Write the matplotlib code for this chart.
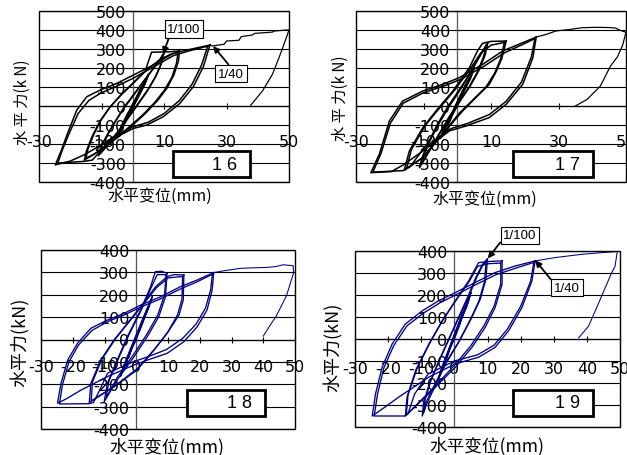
import matplotlib
matplotlib.use("Agg")
import matplotlib.pyplot as plt
from matplotlib.patches import Rectangle

plt.rcParams['font.family'] = ['DejaVu Sans']
plt.rcParams['axes.unicode_minus'] = False

W, H = 627, 456

# ---- 试验体16 (黑) : 每个回环 (x mm, y kN)
s16_loops = [
    [(2.5, 90), (1.5, 55), (0, 10), (-1.5, -45), (-2.5, -90), (-1.5, -55), (0, -10), (1.5, 45), (2.5, 90)],
    [(5, 165), (4, 120), (2, 55), (0, -5), (-2, -70), (-4, -135), (-5, -165), (-4, -120), (-2, -55), (0, 5), (2, 70), (4, 135), (5, 165)],
    [(4.8, 155), (3.8, 112), (1.8, 48), (-0.2, -12), (-2.2, -78), (-4, -130), (-4.8, -155), (-3.8, -110), (-1.8, -45), (0.2, 15), (2.2, 80), (4, 130), (4.8, 155)],
    [(10, 280), (9.2, 225), (7.5, 160), (5, 90), (2, 20), (-1, -50), (-4, -120), (-7, -185), (-9.5, -235), (-11, -262), (-10, -210), (-8, -150), (-5.5, -80), (-3, -15), (0, 50), (3, 120), (6, 185), (8.5, 240), (10, 280)],
    [(9.6, 268), (8.8, 210), (7, 145), (4.5, 75), (1.5, 5), (-1.5, -65), (-4.5, -130), (-7.5, -190), (-10, -240), (-10.6, -250), (-9.6, -195), (-7.6, -135), (-5, -65), (-2.5, 0), (0.5, 65), (3.5, 130), (6.5, 195), (8.5, 235), (9.6, 268)],
    [(15, 290), (14.6, 235), (13.2, 165), (11, 95), (8, 30), (4, -40), (0, -100), (-4, -155), (-8, -205), (-12, -250), (-15.5, -285), (-14.8, -235), (-13, -160), (-10.5, -80), (-7.5, -10), (-4, 55), (0, 120), (4, 185), (6, 283), (11.5, 285), (15, 290)],
    [(14.5, 282), (14, 225), (12.5, 150), (10, 80), (7, 18), (3, -50), (-1, -108), (-5, -165), (-9, -215), (-12.5, -255), (-15, -275), (-14.3, -225), (-12.5, -150), (-10, -70), (-7, 0), (-3.5, 62), (0.5, 125), (4.5, 190), (8.5, 242), (12, 272), (14.5, 282)],
    [(24.7, 321), (22.6, 207), (19.4, 102), (15.1, 14), (9.8, -56), (4.5, -100), (0.2, -118), (-7.2, -179), (-15.7, -258), (-20, -290), (-24.8, -310), (-23, -240), (-21, -150), (-17.9, -21), (-14.7, 49), (-10.4, 84), (-5.1, 119), (0.2, 163), (5.5, 207), (13, 277), (17.2, 294), (24.7, 321)],
    [(24, 315), (22, 215), (19, 115), (15, 30), (10, -40), (5, -85), (0, -110), (-7, -170), (-11, -250), (-13, -285), (-16, -292), (-24, -300), (-22.5, -230), (-20.5, -150), (-17.5, -40), (-14, 30), (-10, 70), (-5, 105), (0, 145), (6, 200), (13, 265), (18, 290), (24, 315)],
]
s16_final = [(24.7, 321), (25.5, 316), (29.2, 325), (30, 342), (34, 346), (34.7, 365), (38.3, 374), (39, 382), (44.7, 389), (45.4, 395), (49.5, 400), (50, 400),
             (48.4, 325), (46.8, 254), (44.7, 167), (41.5, 79), (37.7, 3)]

# ---- 试验体17 (黑)
s17_loops = [
    [(2.5, 110), (1.5, 70), (0, 20), (-1.5, -40), (-2.5, -90), (-1.5, -50), (0, 0), (1.5, 60), (2.5, 110)],
    [(5, 200), (4, 150), (2, 80), (0, 10), (-2, -60), (-4, -135), (-5, -170), (-4, -125), (-2, -55), (0, 20), (2, 95), (4, 160), (5, 200)],
    [(4.8, 190), (3.8, 140), (1.8, 72), (-0.2, 2), (-2.2, -68), (-4, -130), (-4.8, -160), (-3.8, -118), (-1.8, -48), (0.2, 28), (2.2, 100), (4, 158), (4.8, 190)],
    [(9, 330), (8.3, 270), (6.5, 190), (4, 110), (1, 30), (-2, -50), (-5, -140), (-8, -230), (-10, -290), (-11.2, -325), (-10.4, -270), (-8.5, -190), (-6, -100), (-3, -10), (0, 70), (3, 150), (5.5, 230), (7.5, 290), (9, 330)],
    [(8.6, 320), (7.8, 260), (6, 180), (3.5, 100), (0.5, 20), (-2.5, -60), (-5.5, -150), (-8.5, -240), (-10.6, -305), (-10, -260), (-8, -180), (-5.5, -95), (-2.5, -5), (0.5, 75), (3.5, 160), (6, 240), (7.8, 295), (8.6, 320)],
    [(14.5, 342), (13.2, 250), (11.5, 180), (9.5, 114), (5.5, 44), (1.6, -26), (-4.3, -149), (-10.2, -272), (-15.7, -338), (-14.2, -237), (-10.2, -114), (-6.3, -26), (-1.3, 79), (3.6, 202), (6, 290), (7.5, 330), (10, 340), (14.5, 342)],
    [(14, 335), (12.8, 245), (11, 170), (8.5, 100), (4.5, 30), (0.5, -40), (-5, -160), (-10.5, -275), (-15, -328), (-13.6, -230), (-9.6, -105), (-5.7, -20), (-0.7, 85), (4, 200), (7, 280), (10, 320), (14, 335)],
    [(23.4, 363), (22.4, 254), (19.4, 114), (14.5, 9), (9.5, -61), (2.6, -105), (-2.3, -131), (-10.2, -237), (-16, -310), (-19.5, -345), (-25.6, -351), (-23.1, -254), (-20.1, -79), (-16.2, 26), (-10.2, 79), (-4.3, 114), (0.6, 149), (7.5, 219), (13.5, 290), (19.4, 333), (23.4, 363)],
    [(23, 355), (22, 260), (19, 125), (14.5, 25), (9.5, -45), (3, -92), (-2, -120), (-10, -225), (-14, -320), (-16, -340), (-25, -348), (-22.6, -250), (-19.8, -90), (-16, 15), (-10, 70), (-4, 105), (1, 140), (8, 210), (14, 280), (19.5, 325), (23, 355)],
]
s17_final = [(23.4, 363), (26, 375), (29.3, 395), (33, 402), (37, 412), (41, 414), (45, 413), (47, 410), (48, 400), (50, 388),
             (49, 320), (47.5, 260), (45.4, 210), (42.4, 105), (38.5, 35), (35, 0)]

# ---- 试验体18 (蓝)
s18_loops = [
    [(2.5, 100), (1.5, 60), (0, 15), (-1.5, -40), (-2.5, -85), (-1.5, -45), (0, 0), (1.5, 55), (2.5, 100)],
    [(5, 190), (4, 145), (2, 75), (0, 10), (-2, -60), (-4, -130), (-5, -165), (-4, -120), (-2, -50), (0, 20), (2, 90), (4, 155), (5, 190)],
    [(4.8, 182), (3.8, 138), (1.8, 68), (-0.2, 3), (-2.2, -66), (-4, -125), (-4.8, -155), (-3.8, -112), (-1.8, -42), (0.2, 26), (2.2, 96), (4, 158), (4.8, 182)],
    [(9.7, 296), (9.2, 191), (7.1, 102), (3.5, 13), (-0.7, -77), (-6, -181), (-10.1, -278), (-9.1, -196), (-6, -92), (-2.8, 13), (1.4, 132), (4.5, 236), (6, 303), (8, 305), (9.7, 296)],
    [(9.4, 290), (8.9, 200), (6.8, 110), (3.2, 20), (-1, -70), (-6, -170), (-9.5, -262), (-8.6, -185), (-5.6, -85), (-2.4, 18), (1.8, 138), (4.8, 235), (6.6, 290), (9.4, 290)],
    [(15, 288), (14.8, 176), (13.5, 110), (9.7, 27), (5.6, -47), (0.3, -136), (-7, -211), (-14.8, -282), (-14.3, -196), (-11.2, -92), (-7, -2), (-2.8, 72), (1.4, 147), (6.1, 236), (9.7, 281), (12, 290), (15, 288)],
    [(14.6, 282), (14.4, 180), (13, 110), (10, 35), (6, -40), (0.5, -128), (-6.5, -205), (-14.2, -275), (-13.8, -190), (-10.8, -88), (-6.6, 2), (-2.4, 76), (1.8, 150), (6.4, 232), (10, 275), (14.6, 282)],
    [(24.4, 299), (23.9, 221), (22.3, 132), (19.2, 57), (15, -10), (9.7, -62), (3.5, -92), (-0.7, -114), (-9.1, -166), (-17.4, -226), (-22, -265), (-24.8, -285), (-23.7, -196), (-21.6, -92), (-18.5, -17), (-14.3, 50), (-9.1, 87), (-3.8, 117), (1.4, 154), (7.7, 191), (13.9, 236), (19.2, 266), (24.4, 299)],
    [(24, 292), (23.4, 220), (21.8, 140), (18.8, 68), (14.6, 5), (9.5, -45), (3.5, -78), (-1, -100), (-9, -150), (-12, -240), (-13.5, -282), (-15, -287), (-24.2, -288), (-23.2, -200), (-21.2, -100), (-18.2, -25), (-14, 40), (-9, 80), (-4, 108), (1.4, 145), (7.7, 182), (13.9, 226), (19.2, 258), (24, 292)],
]
s18_final = [(24.4, 299), (28, 308), (32.8, 318), (36, 320), (41, 322), (44, 326), (46.2, 334), (49.4, 330),
             (49.6, 300), (47.3, 195), (44.1, 105), (42, 60), (40, 15)]

# ---- 试验体19 (蓝)
s19_loops = [
    [(2.5, 110), (1.5, 65), (0, 15), (-1.5, -45), (-2.5, -95), (-1.5, -50), (0, 0), (1.5, 60), (2.5, 110)],
    [(5, 210), (4, 160), (2, 85), (0, 10), (-2, -70), (-4, -150), (-5, -190), (-4, -140), (-2, -60), (0, 20), (2, 100), (4, 170), (5, 210)],
    [(4.8, 200), (3.8, 150), (1.8, 78), (-0.2, 2), (-2.2, -78), (-4, -145), (-4.8, -180), (-3.8, -130), (-1.8, -52), (0.2, 28), (2.2, 105), (4, 172), (4.8, 200)],
    [(10, 365), (9.5, 270), (7.8, 180), (5, 90), (1.5, -10), (-2.5, -110), (-6, -220), (-8.5, -300), (-9.7, -350), (-9.3, -290), (-7.5, -200), (-5, -110), (-2, -10), (1, 90), (4, 190), (6.5, 280), (8.5, 340), (10, 365)],
    [(9.6, 355), (9.1, 262), (7.4, 172), (4.6, 82), (1.1, -18), (-2.9, -115), (-6.2, -215), (-8.6, -290), (-9.3, -335), (-8.9, -280), (-7.1, -190), (-4.6, -100), (-1.6, 0), (1.4, 98), (4.4, 196), (6.8, 282), (8.4, 330), (9.6, 355)],
    [(14.4, 355), (14.4, 249), (12.3, 143), (9.3, 53), (5.3, -38), (0.3, -128), (-6.7, -234), (-14.8, -350), (-14.3, -264), (-11.7, -143), (-7.7, -23), (-3.7, 83), (0.3, 174), (4.3, 264), (7.3, 347), (10, 352), (14.4, 355)],
    [(14, 345), (14, 250), (12, 150), (9, 62), (5, -30), (0, -120), (-6.5, -225), (-14.5, -345), (-14, -255), (-11.3, -135), (-7.3, -15), (-3.3, 90), (0.7, 180), (4.5, 262), (7, 330), (10, 342), (14, 345)],
    [(24.4, 355), (23.4, 264), (20.4, 143), (16.4, 38), (12.3, -38), (7.3, -83), (0.3, -113), (-7.7, -173), (-16.8, -264), (-21, -310), (-24.8, -350), (-23.8, -249), (-21.8, -128), (-18.8, -23), (-14.8, 68), (-9.7, 128), (-4.7, 174), (0.3, 211), (6.3, 257), (12.3, 302), (18.4, 332), (24.4, 355)],
    [(24, 348), (23, 262), (20, 148), (16, 45), (12, -28), (7, -72), (0, -100), (-8, -160), (-12, -250), (-14, -340), (-15, -350), (-24.2, -350), (-23.2, -250), (-21.3, -132), (-18.3, -30), (-14.3, 60), (-9.3, 118), (-4.3, 165), (0.6, 202), (6.6, 248), (12.5, 292), (18.5, 322), (24, 348)],
]
s19_final = [(24.4, 355), (30.4, 370), (38.5, 385), (44, 392), (48.5, 397), (49.2, 400),
             (48.5, 330), (47.5, 302), (44, 179), (40.5, 58), (37.5, 5)]

top_xticks = [-30, -10, 10, 30, 50]
bot_xticks = [-30, -20, -10, 0, 10, 20, 30, 40, 50]
top_yticks = [-400, -300, -200, -100, 0, 100, 200, 300, 400, 500]
bot_yticks = [-400, -300, -200, -100, 0, 100, 200, 300, 400]

fig = plt.figure(figsize=(W / 100, H / 100), dpi=100)


def px_axes(l, t, r, b):
    return fig.add_axes([l / W, 1 - b / H, (r - l) / W, (b - t) / H])


def draw_panel(ax, loops, final, color, lw, xticks, yticks, xpad):
    for loop in loops:
        ax.plot([p[0] for p in loop], [p[1] for p in loop], color=color, lw=lw, zorder=3)
    ax.plot([p[0] for p in final], [p[1] for p in final], color=color, lw=lw * 0.8, zorder=3)
    ax.set_xlim(-30, 50)
    ax.set_ylim(yticks[0], yticks[-1])
    ax.set_xticks(xticks)
    ax.set_xticklabels([str(v) for v in xticks])
    ax.set_yticks(yticks)
    ax.set_yticklabels([str(v) for v in yticks])
    ax.yaxis.grid(True, color='black', lw=0.8)
    ax.set_axisbelow(True)
    ax.spines['left'].set_position(('data', 0))
    ax.spines['bottom'].set_position(('data', 0))
    ax.spines['left'].set_color('#555555')
    ax.spines['left'].set_linewidth(0.9)
    ax.spines['bottom'].set_linewidth(0.9)
    ax.spines['top'].set_visible(False)
    ax.spines['right'].set_visible(False)
    ax.add_patch(Rectangle((0, 0), 1, 1, transform=ax.transAxes, fill=False,
                           ec='black', lw=1.0, zorder=4, clip_on=False))
    ax.tick_params(axis='x', direction='inout', length=5, width=0.8, pad=xpad, labelsize=11.5)
    ax.tick_params(axis='y', direction='inout', length=5, width=0.8, pad=2.5, labelsize=11.5)
    ax.patch.set_alpha(0)


def number_box(l, t, r, b, label):
    fig.add_artist(Rectangle((l / W, 1 - b / H), (r - l) / W, (b - t) / H,
                             transform=fig.transFigure, fc='white', ec='black', lw=2.0))
    fig.text((r - 13) / W, 1 - (t + b) / 2 / H, label, ha='right', va='center',
             family=['Liberation Sans'], size=13)


def note(ax, text, xy, cx, cy, relpos):
    ax.annotate(text, xy=xy, xycoords='data', xytext=(cx / W, 1 - cy / H),
                textcoords='figure fraction', ha='center', va='center',
                family=['Liberation Sans'], size=9.5, annotation_clip=False, zorder=6,
                bbox=dict(boxstyle='square,pad=0.2', fc='white', ec='black', lw=0.8),
                arrowprops=dict(arrowstyle='-|>', color='black', lw=1.3,
                                mutation_scale=9, relpos=relpos, shrinkA=0, shrinkB=0))


cjk = ['Noto Sans CJK SC', 'DejaVu Sans']

ax16 = px_axes(39, 12, 289, 183)
draw_panel(ax16, s16_loops, s16_final, 'black', 1.1, top_xticks, top_yticks, 18)
ax17 = px_axes(356, 12, 626, 183)
draw_panel(ax17, s17_loops, s17_final, 'black', 1.1, top_xticks, top_yticks, 18)
ax18 = px_axes(41, 251, 295, 430)
draw_panel(ax18, s18_loops, s18_final, '#000080', 0.95, bot_xticks, bot_yticks, 11.5)
ax19 = px_axes(355, 252, 620, 428)
draw_panel(ax19, s19_loops, s19_final, '#000080', 0.95, bot_xticks, bot_yticks, 13.5)

note(ax16, '1/100', (9.7, 274), 184, 30, (0.08, 0.0))
note(ax16, '1/40', (25.7, 316), 231, 74.5, (0.5, 1.0))
note(ax19, '1/100', (10.1, 366), 520, 236.5, (0.0, 0.25))
note(ax19, '1/40', (24.4, 358), 567, 288.5, (0.0, 0.85))

number_box(173, 152, 250, 178, '1 6')
number_box(513, 152, 593, 178, '1 7')
number_box(187, 391, 265, 417, '1 8')
number_box(513, 391, 593, 417, '1 9')

fig.text(160 / W, 1 - 196 / H, '水平变位(mm)', ha='center', va='center', family=cjk, size=11.5)
fig.text(485 / W, 1 - 199 / H, '水平变位(mm)', ha='center', va='center', family=cjk, size=11.5)
fig.text(167 / W, 1 - 447 / H, '水平变位(mm)', ha='center', va='center', family=cjk, size=12.7)
fig.text(487 / W, 1 - 446 / H, '水平变位(mm)', ha='center', va='center', family=cjk, size=12.7)

fig.text(22 / W, 1 - 102 / H, '水 平 力(k N)', rotation=90, ha='center', va='center', family=cjk, size=11)
fig.text(340 / W, 1 - 98 / H, '水 平 力(k N)', rotation=90, ha='center', va='center', family=cjk, size=11)
fig.text(20 / W, 1 - 342 / H, '水平力(kN)', rotation=90, ha='center', va='center', family=cjk, size=13)
fig.text(333 / W, 1 - 347 / H, '水平力(kN)', rotation=90, ha='center', va='center', family=cjk, size=13)

fig.savefig('out.png', dpi=100, facecolor='white')
